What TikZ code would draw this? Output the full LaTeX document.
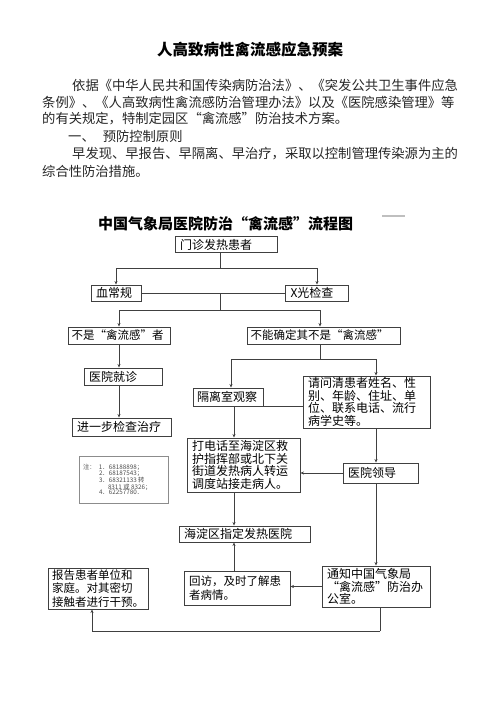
\documentclass[tikz,border=0pt]{standalone}
\usepackage{fontspec}
\newfontfamily\cjk{Noto Sans CJK SC}
\usetikzlibrary{arrows.meta}
\XeTeXlinebreaklocale "zh"
\XeTeXlinebreakskip=0pt
\newcommand\jline[2]{\makebox[#1][s]{\XeTeXlinebreakskip=0pt plus 3pt\relax #2}}

\begin{document}
\begin{tikzpicture}[x=1pt,y=-1pt,
    >={Stealth[length=3.5pt,width=3pt]},
    line/.style={draw=black!75,line width=0.8pt},
    box/.style={draw=black!75,line width=0.9pt,inner xsep=5pt,inner ysep=0pt,
      align=flush left,font=\cjk\fontsize{12}{12.8}\selectfont},
    para/.style={anchor=west,inner sep=0pt,text=black!85,
      font=\cjk\fontsize{13.3}{16}\selectfont},
    notebox/.style={draw=black!45,line width=0.5pt,inner xsep=4pt,inner ysep=0pt,
      align=flush left,text=black!70,font=\cjk\fontsize{6.3}{5.7}\selectfont}]
\fill[white] (0,0) rectangle (500,706);
\useasboundingbox (0,0) rectangle (500,706);

% text above the chart
\node[inner sep=0pt,font=\cjk\bfseries\fontsize{15.5}{18}\selectfont] (title) at (250,50) {人高致病性禽流感应急预案};
\node[para] (p1) at (72,85) {\jline{386pt}{依据《中华人民共和国传染病防治法》、《突发公共卫生事件应急}};
\node[para] (p2) at (42,102.7) {\jline{415pt}{条例》、《人高致病性禽流感防治管理办法》以及《医院感染管理》等}};
\node[para] (p3) at (42,118.5) {的有关规定，特制定园区“禽流感”防治技术方案。};
\node[para] (p4) at (68,136) {一、\hspace{0.6em}预防控制原则};
\node[para] (p5) at (72,154) {\jline{386pt}{早发现、早报告、早隔离、早治疗，采取以控制管理传染源为主的}};
\node[para] (p6) at (42,171.7) {综合性防治措施。};

% chart
\node[anchor=west,inner sep=0pt,font=\cjk\bfseries\fontsize{15}{17}\selectfont] (ftitle) at (98,224) {中国气象局医院防治“禽流感”流程图};
\draw[black!25,line width=1.2pt] (382,216) -- (405,216);

\node[box,text width=92pt,minimum height=16pt] (menzhen) at (226,244.5) {门诊发热患者};
\node[box,text width=40pt,minimum height=16pt] (xue) at (116,293) {血常规};
\node[box,text width=53pt,minimum height=16pt] (xray) at (317,293) {X光检查};
\node[box,text width=95pt,minimum height=17pt,inner xsep=3.5pt,font=\cjk\fontsize{11.5}{12.8}\selectfont] (bushi) at (119,335.5) {不是“禽流感”者};
\node[box,text width=146pt,minimum height=17pt,inner xsep=3.5pt,font=\cjk\fontsize{11.5}{12.8}\selectfont] (buneng) at (323.5,335.5) {不能确定其不是“禽流感”};
\node[box,text width=68pt,minimum height=17pt] (jiuzhen) at (123,376.5) {医院就诊};
\node[box,text width=89pt,minimum height=18pt] (jinyibu) at (121.5,427) {进一步检查治疗};
\node[box,text width=62pt,minimum height=18pt,inner xsep=4pt] (geli) at (228,397) {隔离室观察};
\node[box,text width=117pt,minimum height=52pt] (xunwen) at (366.5,402) {请问清患者姓名、性\\别、年龄、住址、单\\位、联系电话、流行\\病学史等。};
\node[box,text width=103pt,minimum height=54pt] (dianhua) at (243.5,465) {打电话至海淀区救\\护指挥部或北下关\\街道发热病人转运\\调度站接走病人。};
\node[box,text width=65pt,minimum height=20pt] (lingdao) at (380.5,473) {医院领导};
\node[notebox,text width=81pt,minimum height=47pt] (note) at (123.5,479.5) {\makebox[16pt][l]{注：}1．68188898；\\
  \hspace*{16pt}2．68187543；\\
  \hspace*{16pt}3．68321133 转\\
  \hspace*{25pt}8311 或 8326；\\
  \hspace*{16pt}4．62257780．};
\node[box,text width=121pt,minimum height=16pt] (haidian) at (244.5,534) {海淀区指定发热医院};
\node[box,text width=92pt,minimum height=41pt,inner xsep=4pt,font=\cjk\fontsize{11.5}{13.3}\selectfont] (baogao) at (98,588.5) {报告患者单位和\\家庭。对其密切\\接触者进行干预。};
\node[box,text width=96pt,minimum height=34pt,font=\cjk\fontsize{11.5}{14}\selectfont] (huifang) at (237,588) {回访，及时了解患\\者病情。};
\node[box,text width=98pt,minimum height=41pt] (tongzhi) at (376,586.5) {通知中国气象局\\“禽流感”防治办\\公室。};

% junctions
\coordinate (j1) at (220,268);
\coordinate (j2) at (220,310);
\coordinate (j3) at (320,359);
\coordinate (j4) at (380,631);
\coordinate (lc) at (119,0);
\coordinate (mc) at (234,0);
\coordinate (rc) at (376,0);

\draw[line] (j1 |- menzhen.south) -- (j1);
\draw[line,->] (j1) -| (xue);
\draw[line,->] (j1) -| (xray);
\draw[line] (xue) -- (xray);
\draw[line] (j1 |- xue) -- (j2);
\draw[line,->] (j2) -| (bushi);
\draw[line,->] (j2) -| (j3 |- buneng.north);
\draw[line,->] (lc |- bushi.south) -- (lc |- jiuzhen.north);
\draw[line,->] (lc |- jiuzhen.south) -- (lc |- jinyibu.north);
\draw[line] (j3 |- buneng.south) -- (j3);
\draw[line,->] (j3) -| ([xshift=3pt]geli.north);
\draw[line,->] (j3) -| (rc |- xunwen.north);
\draw[line] (geli.south east) -- (geli.south east -| xunwen.west);
\draw[line,->] (mc |- geli.south) -- (mc |- dianhua.north);
\draw[line,->] (rc |- xunwen.south) -- (rc |- lingdao.north);
\draw[line,->] (lingdao.west) -- (lingdao.west -| dianhua.east);
\draw[line,->] (mc |- dianhua.south) -- (mc |- haidian.north);
\draw[line,->] (rc |- lingdao.south) -- (rc |- tongzhi.north);
\draw[line,->] (mc |- huifang.north) -- (mc |- haidian.south);
\draw[line,->] (tongzhi.west) -- (tongzhi.west -| huifang.east);
\draw[line] (j4 |- tongzhi.south) -- (j4);
\draw[line,->] (j4) -| ([xshift=-6pt]baogao.south);
\end{tikzpicture}
\end{document}
